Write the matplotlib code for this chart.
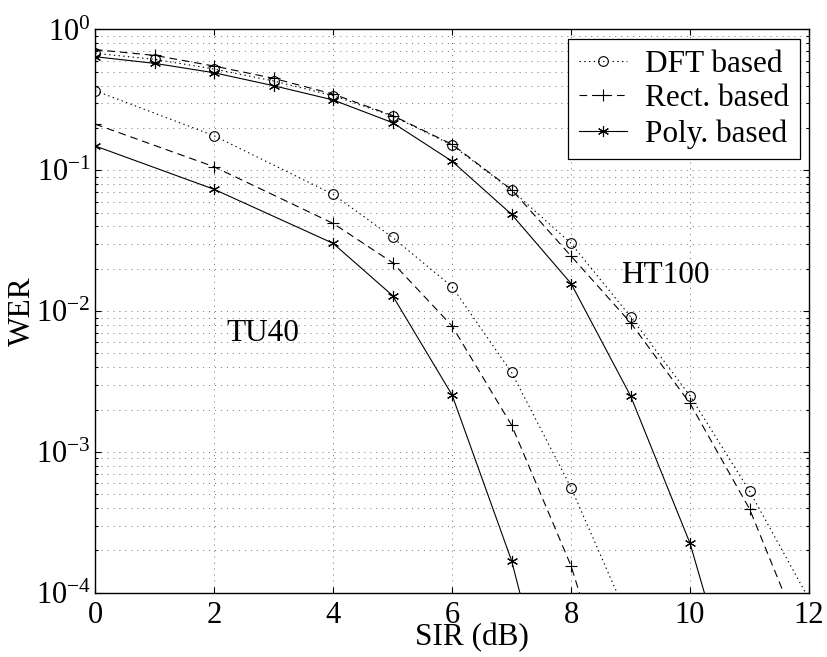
import numpy as np
import matplotlib; matplotlib.use("Agg")
import matplotlib.pyplot as plt
from matplotlib.ticker import LogLocator, NullFormatter, FixedLocator

plt.rcParams.update({"font.family": "Liberation Serif", "mathtext.fontset": "custom",
                     "mathtext.rm": "Liberation Serif", "mathtext.it": "Liberation Serif:italic",
                     "lines.scale_dashes": False})

# TU40 channel (points below 1e-4 fall off the axis)
x_tu = [0, 2, 4, 5, 6, 7, 8, 9]
tu_dft = [0.368, 0.176, 0.0675, 0.0334, 0.0149, 0.00367, 0.000557, 6.0e-5]
tu_rect = [0.213, 0.106, 0.042, 0.0221, 0.00784, 0.00155, 0.000155, 6.8e-6]
tu_poly = [0.149, 0.0733, 0.0303, 0.0129, 0.00254, 0.000169, 3.9e-6, 1e-7]

# HT100 channel
x_ht = [0, 1, 2, 3, 4, 5, 6, 7, 8, 9, 10, 11, 12]
ht_dft = [0.678, 0.614, 0.524, 0.431, 0.339, 0.243, 0.151, 0.0724, 0.0303, 0.00912, 0.0025, 0.000527, 9.0e-5]
ht_rect = [0.72, 0.655, 0.55, 0.45, 0.348, 0.245, 0.153, 0.073, 0.0246, 0.00827, 0.00221, 0.000393, 3.6e-5]
ht_poly = [0.641, 0.575, 0.493, 0.399, 0.316, 0.218, 0.116, 0.0487, 0.0157, 0.0025, 0.000224, 7.8e-6, 3e-7]

labels = ["DFT based", "Rect. based", "Poly. based"]
FS = 22.5
TFS = 22
STY = [dict(ls=(0, (1, 2.4)), marker="o", ms=7, mfc="none"),
       dict(ls=(0, (5.5, 3.5)), marker="+", ms=8),
       dict(ls="-", marker=(6, 2, 0), ms=8)]
GRID = dict(color="0.3", lw=0.5, ls=(0, (0.8, 3.5)))

fig = plt.figure(figsize=(8.27, 6.57), dpi=100)
ax = fig.add_axes([0.1149, 0.0979, 0.8634, 0.8572])

for i, (yt, yh) in enumerate(zip([tu_dft, tu_rect, tu_poly], [ht_dft, ht_rect, ht_poly])):
    s = STY[i]
    ax.semilogy(x_tu, yt, color="k", lw=0.8, mew=0.8, **s)
    ax.semilogy(x_ht, yh, color="k", lw=0.8, mew=0.8, label=labels[i], **s)

ax.set_xlim(0, 12); ax.set_ylim(1e-4, 1)
ax.xaxis.set_major_locator(FixedLocator([0, 2, 4, 6, 8, 10, 12]))
ax.yaxis.set_major_locator(LogLocator(base=10, numticks=10))
ax.yaxis.set_minor_locator(LogLocator(base=10, subs=np.arange(2, 10), numticks=20))
ax.yaxis.set_minor_formatter(NullFormatter())
ax.grid(True, which="major", axis="both", **GRID)
ax.grid(True, which="minor", axis="y", **GRID)
ax.tick_params(which="both", direction="in", top=True, right=True, labelsize=TFS, width=0.8)
ax.tick_params(which="major", length=4.5)
ax.tick_params(which="minor", length=2.5)
ax.tick_params(axis="x", pad=6)
ax.tick_params(axis="y", pad=3)
for sp in ax.spines.values():
    sp.set_linewidth(1.0)

ax.set_xlabel("SIR (dB)", fontsize=FS, va="baseline")
ax.xaxis.set_label_coords(0.528, -0.093)
ax.set_ylabel("WER", fontsize=FS)
ax.yaxis.set_label_coords(-0.082, 0.5)

ax.text(2.2, 0.0069, "TU40", fontsize=FS, va="center", ha="left")
ax.text(8.85, 0.018, "HT100", fontsize=FS, va="center", ha="left")

leg = ax.legend(loc="upper right", fontsize=FS, numpoints=1, fancybox=False, framealpha=1,
                edgecolor="k", handlelength=1.55, handletextpad=0.55, labelspacing=0.18,
                borderpad=0.35, borderaxespad=0.3)
leg.get_frame().set_linewidth(0.9)

fig.savefig("out.png", dpi=100)
